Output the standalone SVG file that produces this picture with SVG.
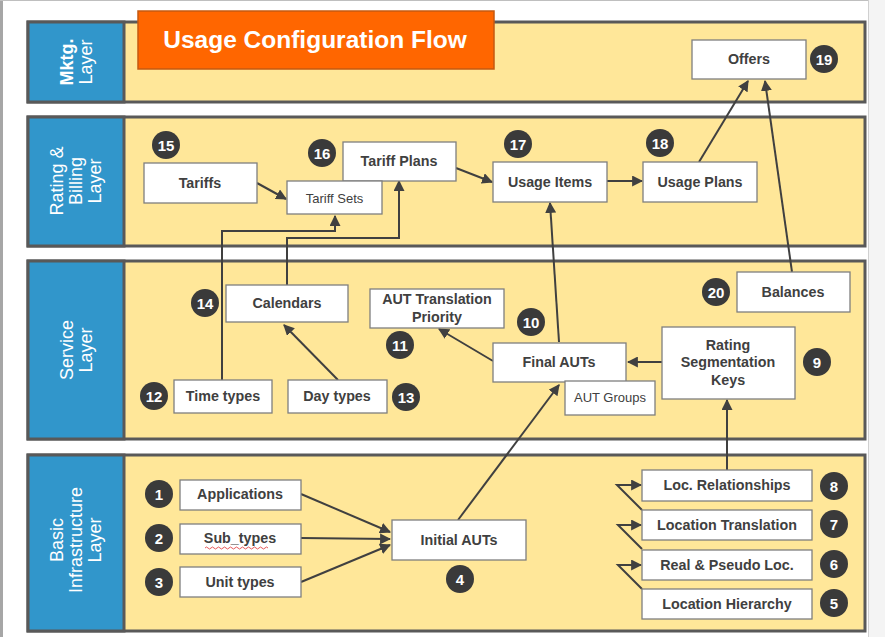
<svg xmlns="http://www.w3.org/2000/svg" width="885" height="637" viewBox="0 0 885 637">
<style>
.bg{fill:#ffffff}
.layer{fill:#FFE799;stroke:#595959;stroke-width:3}
.lab{fill:#3196CB;stroke:#595959;stroke-width:3}
.lt{font-family:"Liberation Sans",Arial,sans-serif;font-size:18px;fill:#ffffff;text-anchor:middle}
.box{fill:#ffffff;stroke:#7f7f7f;stroke-width:1.3}
.t{font-family:"Liberation Sans",Arial,sans-serif;font-size:14.3px;font-weight:bold;fill:#404040;text-anchor:middle}
.ts{font-family:"Liberation Sans",Arial,sans-serif;font-size:13px;fill:#404040;text-anchor:middle}
.bd{fill:#3a3a3a}
.bt{font-family:"Liberation Sans",Arial,sans-serif;font-size:15px;font-weight:bold;fill:#ffffff;text-anchor:middle}
.c{fill:none;stroke:#404040;stroke-width:2}
</style>
<defs>
<marker id="ah" viewBox="0 0 10 10" refX="9" refY="5" markerWidth="5.5" markerHeight="5.5" orient="auto" markerUnits="strokeWidth">
<path d="M0,0 L10,5 L0,10 z" fill="#404040"/>
</marker>
</defs>
<rect class="bg" x="0" y="0" width="885" height="637"/>
<rect x="0" y="0" width="3" height="637" fill="#a6a6a6"/>
<rect x="0" y="0" width="885" height="1" fill="#bfbfbf"/>
<rect x="868" y="0" width="1" height="637" fill="#d0d0d0"/>
<rect x="869" y="0" width="16" height="637" fill="#f4f4f4"/>

<g id="layer-mktg">
<rect class="layer" x="28" y="22" width="837" height="80"/>
<rect class="lab" x="28" y="22" width="96" height="80"/>
<text class="lt" transform="translate(76,62) rotate(-90)"><tspan x="0" y="-3" font-weight="bold">Mktg.</tspan><tspan x="0" y="16">Layer</tspan></text>
</g>
<g id="layer-rating">
<rect class="layer" x="28" y="117" width="837" height="129"/>
<rect class="lab" x="28" y="117" width="96" height="129"/>
<text class="lt" transform="translate(76,181) rotate(-90)"><tspan x="0" y="-13">Rating &amp;</tspan><tspan x="0" y="6">Billing</tspan><tspan x="0" y="25">Layer</tspan></text>
</g>
<g id="layer-service">
<rect class="layer" x="28" y="261" width="837" height="178"/>
<rect class="lab" x="28" y="261" width="96" height="178"/>
<text class="lt" transform="translate(76,350) rotate(-90)"><tspan x="0" y="-3">Service</tspan><tspan x="0" y="16">Layer</tspan></text>
</g>
<g id="layer-basic">
<rect class="layer" x="28" y="455" width="837" height="176"/>
<rect class="lab" x="28" y="455" width="96" height="176"/>
<text class="lt" transform="translate(76,540) rotate(-90)"><tspan x="0" y="-13">Basic</tspan><tspan x="0" y="6">Infrastructure</tspan><tspan x="0" y="25">Layer</tspan></text>
</g>

<g id="title">
<rect x="138" y="11" width="356" height="58" fill="#FF6600" stroke="#C55A11" stroke-width="1.5"/>
<text x="315" y="48" font-family="Liberation Sans,Arial,sans-serif" font-size="24.5" font-weight="bold" fill="#ffffff" text-anchor="middle">Usage Configuration Flow</text>
</g>

<g id="connectors">
<line class="c" x1="257" y1="183" x2="286" y2="199" marker-end="url(#ah)"/>
<line class="c" x1="456" y1="168" x2="492" y2="182" marker-end="url(#ah)"/>
<line class="c" x1="607" y1="181" x2="642" y2="181" marker-end="url(#ah)"/>
<line class="c" x1="699" y1="162" x2="748" y2="81" marker-end="url(#ah)"/>
<line class="c" x1="792" y1="272" x2="765" y2="81" marker-end="url(#ah)"/>
<line class="c" x1="559" y1="342" x2="550" y2="203" marker-end="url(#ah)"/>
<polyline class="c" points="222,380 222,231 335,231 335,216" marker-end="url(#ah)"/>
<polyline class="c" points="287,285 287,238 399,238 399,181" marker-end="url(#ah)"/>
<line class="c" x1="338" y1="380" x2="284" y2="325" marker-end="url(#ah)"/>
<line class="c" x1="493" y1="361" x2="439" y2="329" marker-end="url(#ah)"/>
<line class="c" x1="662" y1="362" x2="628" y2="362" marker-end="url(#ah)"/>
<line class="c" x1="727" y1="470" x2="727" y2="400" marker-end="url(#ah)"/>
<line class="c" x1="458" y1="520" x2="559" y2="385" marker-end="url(#ah)"/>
<line class="c" x1="301" y1="494" x2="390" y2="532" marker-end="url(#ah)"/>
<line class="c" x1="301" y1="538" x2="390" y2="539" marker-end="url(#ah)"/>
<line class="c" x1="301" y1="582" x2="390" y2="545" marker-end="url(#ah)"/>
<polyline class="c" points="642,510 617,485 641,485" marker-end="url(#ah)"/>
<polyline class="c" points="642,549 618,525 641,525" marker-end="url(#ah)"/>
<polyline class="c" points="642,589 618,565 641,565" marker-end="url(#ah)"/>
</g>

<g id="offers"><rect class="box" x="692" y="40" width="114" height="39"/><text class="t" x="749" y="64">Offers</text></g>
<g id="badge-19"><circle class="bd" cx="824" cy="59" r="14"/><text class="bt" x="824" y="64.5">19</text></g>

<g id="tariffs"><rect class="box" x="144" y="163" width="113" height="40"/><text class="t" x="200" y="188">Tariffs</text></g>
<g id="badge-15"><circle class="bd" cx="166" cy="145" r="14"/><text class="bt" x="166" y="150.5">15</text></g>
<g id="tariff-plans"><rect class="box" x="343" y="142" width="113" height="39"/><text class="t" x="399" y="166">Tariff Plans</text></g>
<g id="badge-16"><circle class="bd" cx="322" cy="153" r="14"/><text class="bt" x="322" y="158.5">16</text></g>
<g id="tariff-sets"><rect class="box" x="287" y="181" width="95" height="33"/><text class="ts" x="334.5" y="203">Tariff Sets</text></g>
<g id="usage-items"><rect class="box" x="493" y="162" width="114" height="40"/><text class="t" x="550" y="187">Usage Items</text></g>
<g id="badge-17"><circle class="bd" cx="518" cy="144" r="14"/><text class="bt" x="518" y="149.5">17</text></g>
<g id="usage-plans"><rect class="box" x="643" y="162" width="114" height="40"/><text class="t" x="700" y="187">Usage Plans</text></g>
<g id="badge-18"><circle class="bd" cx="660" cy="143" r="14"/><text class="bt" x="660" y="148.5">18</text></g>

<g id="calendars"><rect class="box" x="226" y="285" width="122" height="37"/><text class="t" x="287" y="308">Calendars</text></g>
<g id="badge-14"><circle class="bd" cx="205" cy="303" r="14"/><text class="bt" x="205" y="308.5">14</text></g>
<g id="aut-translation-priority"><rect class="box" x="370" y="289" width="134" height="39"/><text class="t" x="437" y="304">AUT Translation</text><text class="t" x="437" y="322">Priority</text></g>
<g id="badge-11"><circle class="bd" cx="400" cy="345" r="14"/><text class="bt" x="400" y="350.5">11</text></g>
<g id="time-types"><rect class="box" x="174" y="380" width="98" height="33"/><text class="t" x="223" y="401">Time types</text></g>
<g id="badge-12"><circle class="bd" cx="154" cy="396" r="14"/><text class="bt" x="154" y="401.5">12</text></g>
<g id="day-types"><rect class="box" x="288" y="380" width="99" height="33"/><text class="t" x="337" y="401">Day types</text></g>
<g id="badge-13"><circle class="bd" cx="406" cy="397" r="14"/><text class="bt" x="406" y="402.5">13</text></g>
<g id="badge-10"><circle class="bd" cx="531" cy="322" r="14"/><text class="bt" x="531" y="327.5">10</text></g>
<g id="final-auts"><rect class="box" x="493" y="343" width="133" height="39"/><text class="t" x="559" y="367">Final AUTs</text></g>
<g id="aut-groups"><rect class="box" x="565" y="381" width="90" height="34"/><text class="ts" x="610" y="402">AUT Groups</text></g>
<g id="rating-segmentation-keys"><rect class="box" x="662" y="327" width="133" height="72"/><text class="t" x="728" y="350">Rating</text><text class="t" x="728" y="367">Segmentation</text><text class="t" x="728" y="385">Keys</text></g>
<g id="badge-9"><circle class="bd" cx="817" cy="362" r="14"/><text class="bt" x="817" y="367.5">9</text></g>
<g id="balances"><rect class="box" x="737" y="272" width="113" height="40"/><text class="t" x="793" y="297">Balances</text></g>
<g id="badge-20"><circle class="bd" cx="716" cy="292" r="14"/><text class="bt" x="716" y="297.5">20</text></g>

<g id="applications"><rect class="box" x="180" y="480" width="121" height="30"/><text class="t" x="240" y="499">Applications</text></g>
<g id="badge-1"><circle class="bd" cx="159" cy="494" r="14"/><text class="bt" x="159" y="499.5">1</text></g>
<g id="sub-types"><rect class="box" x="180" y="524" width="121" height="30"/><text class="t" x="240" y="543">Sub_types</text><path d="M205,548 q1.5,-2 3,0 t3,0 t3,0 t3,0 t3,0 t3,0 t3,0 t3,0 t3,0 t3,0 t3,0 t3,0 t3,0 t3,0 t3,0 t3,0 t3,0 t3,0 t3,0 t3,0 t3,0" fill="none" stroke="#e03030" stroke-width="0.8"/></g>
<g id="badge-2"><circle class="bd" cx="159" cy="538" r="14"/><text class="bt" x="159" y="543.5">2</text></g>
<g id="unit-types"><rect class="box" x="180" y="567" width="121" height="30"/><text class="t" x="240" y="587">Unit types</text></g>
<g id="badge-3"><circle class="bd" cx="159" cy="582" r="14"/><text class="bt" x="159" y="587.5">3</text></g>
<g id="initial-auts"><rect class="box" x="392" y="520" width="134" height="40"/><text class="t" x="459" y="545">Initial AUTs</text></g>
<g id="badge-4"><circle class="bd" cx="460" cy="579" r="14"/><text class="bt" x="460" y="584.5">4</text></g>
<g id="loc-relationships"><rect class="box" x="642" y="470" width="170" height="31"/><text class="t" x="727" y="490">Loc. Relationships</text></g>
<g id="badge-8"><circle class="bd" cx="834" cy="486" r="14"/><text class="bt" x="834" y="491.5">8</text></g>
<g id="location-translation"><rect class="box" x="642" y="510" width="170" height="30"/><text class="t" x="727" y="530">Location  Translation</text></g>
<g id="badge-7"><circle class="bd" cx="834" cy="524" r="14"/><text class="bt" x="834" y="529.5">7</text></g>
<g id="real-pseudo-loc"><rect class="box" x="642" y="550" width="170" height="30"/><text class="t" x="727" y="570">Real &amp; Pseudo Loc.</text></g>
<g id="badge-6"><circle class="bd" cx="834" cy="564" r="14"/><text class="bt" x="834" y="569.5">6</text></g>
<g id="location-hierarchy"><rect class="box" x="642" y="589" width="170" height="30"/><text class="t" x="727" y="609">Location Hierarchy</text></g>
<g id="badge-5"><circle class="bd" cx="834" cy="603" r="14"/><text class="bt" x="834" y="608.5">5</text></g>
</svg>
